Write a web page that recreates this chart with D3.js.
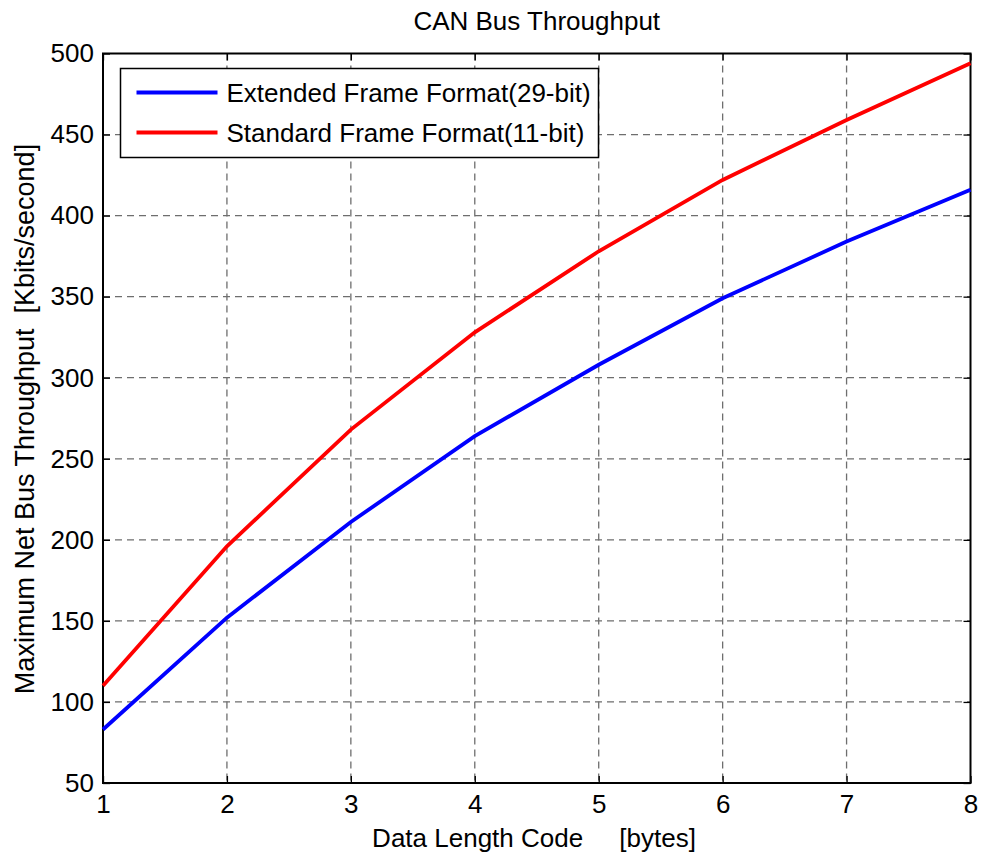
<!DOCTYPE html>
<html>
<head>
<meta charset="utf-8">
<script src="https://cdn.jsdelivr.net/npm/d3@7"></script>
<style>
  body { margin: 0; background: #fff; }
  svg { display: block; font-family: Arial, "Liberation Sans", Helvetica, sans-serif; }
</style>
</head>
<body>
<svg id="chart" width="981" height="856"></svg>
<script>
// data
const dlc = [1, 2, 3, 4, 5, 6, 7, 8]
const extended = [83, 152, 211, 264, 308, 349, 384, 416]
const standard = [110, 196, 268, 328, 378, 422, 459, 494]
const xTicks = [1, 2, 3, 4, 5, 6, 7, 8]
const yTicks = [50, 100, 150, 200, 250, 300, 350, 400, 450, 500]
const seriesNames = ['Extended Frame Format(29-bit)', 'Standard Frame Format(11-bit)']
const seriesColors = ['#0000ff', '#ff0000']

const margin = { top: 53.5, right: 10.5, bottom: 73, left: 103 }
const width = 981 - margin.left - margin.right
const height = 856 - margin.top - margin.bottom

const svg = d3.select('#chart')
const g = svg.append('g').attr('transform', `translate(${margin.left},${margin.top})`)

const x = d3.scaleLinear().domain([1, 8]).range([0, width])
const y = d3.scaleLinear().domain([50, 500]).range([height, 0])

// dashed grid
g.append('g')
  .selectAll('line')
  .data(xTicks.slice(1, -1))
  .join('line')
  .attr('x1', d => x(d)).attr('x2', d => x(d))
  .attr('y1', 0).attr('y2', height)
  .attr('stroke', '#6e6e6e')
  .attr('stroke-width', 1.3)
  .attr('stroke-dasharray', '7,5')

g.append('g')
  .selectAll('line')
  .data(yTicks.slice(1, -1))
  .join('line')
  .attr('x1', 0).attr('x2', width)
  .attr('y1', d => y(d)).attr('y2', d => y(d))
  .attr('stroke', '#6e6e6e')
  .attr('stroke-width', 1.3)
  .attr('stroke-dasharray', '7,5')

// axes with inward ticks on all four sides
const fontSize = '26px'
g.append('g')
  .attr('transform', `translate(0,${height})`)
  .call(d3.axisBottom(x).tickValues(xTicks).tickFormat(d3.format('d')).tickSizeInner(-7).tickSizeOuter(0).tickPadding(12))
g.append('g')
  .call(d3.axisLeft(y).tickValues(yTicks).tickFormat(d3.format('d')).tickSizeInner(-7).tickSizeOuter(0).tickPadding(9))
g.append('g')
  .call(d3.axisTop(x).tickValues(xTicks).tickFormat('').tickSizeInner(-7).tickSizeOuter(0))
g.append('g')
  .attr('transform', `translate(${width},0)`)
  .call(d3.axisRight(y).tickValues(yTicks).tickFormat('').tickSizeInner(-7).tickSizeOuter(0))

g.selectAll('.domain').remove()
g.selectAll('.tick line').attr('stroke', '#000').attr('stroke-width', 1.3)
g.selectAll('.tick text').attr('font-size', fontSize).attr('fill', '#000').attr('font-family', null)

g.append('rect')
  .attr('width', width).attr('height', height)
  .attr('fill', 'none').attr('stroke', '#000').attr('stroke-width', 2)

// lines
const line = d3.line().x((d, i) => x(dlc[i])).y(d => y(d))
;[extended, standard].forEach((s, k) => {
  g.append('path')
    .datum(s)
    .attr('d', line)
    .attr('fill', 'none')
    .attr('stroke', seriesColors[k])
    .attr('stroke-width', 3.8)
})

// legend
const leg = g.append('g').attr('transform', 'translate(17.5,15)')
leg.append('rect')
  .attr('width', 478).attr('height', 89)
  .attr('fill', '#fff').attr('stroke', '#000').attr('stroke-width', 1.5)
seriesNames.forEach((name, k) => {
  const yy = 24 + k * 40
  leg.append('line')
    .attr('x1', 16).attr('x2', 97).attr('y1', yy).attr('y2', yy)
    .attr('stroke', seriesColors[k]).attr('stroke-width', 3.8)
  leg.append('text')
    .attr('x', 106).attr('y', yy)
    .attr('dy', '0.35em')
    .attr('font-size', fontSize)
    .text(name)
})

// titles
svg.append('text')
  .attr('x', margin.left + width / 2).attr('y', 30)
  .attr('text-anchor', 'middle').attr('font-size', fontSize)
  .text('CAN Bus Throughput')

svg.append('text')
  .attr('x', 534).attr('y', 847)
  .attr('text-anchor', 'middle').attr('font-size', fontSize)
  .style('white-space', 'pre')
  .text('Data Length Code     [bytes]')

svg.append('text')
  .attr('transform', 'translate(34,419) rotate(-90)')
  .attr('text-anchor', 'middle').attr('font-size', '27px')
  .style('white-space', 'pre')
  .text('Maximum Net Bus Throughput  [Kbits/second]')
</script>
</body>
</html>
